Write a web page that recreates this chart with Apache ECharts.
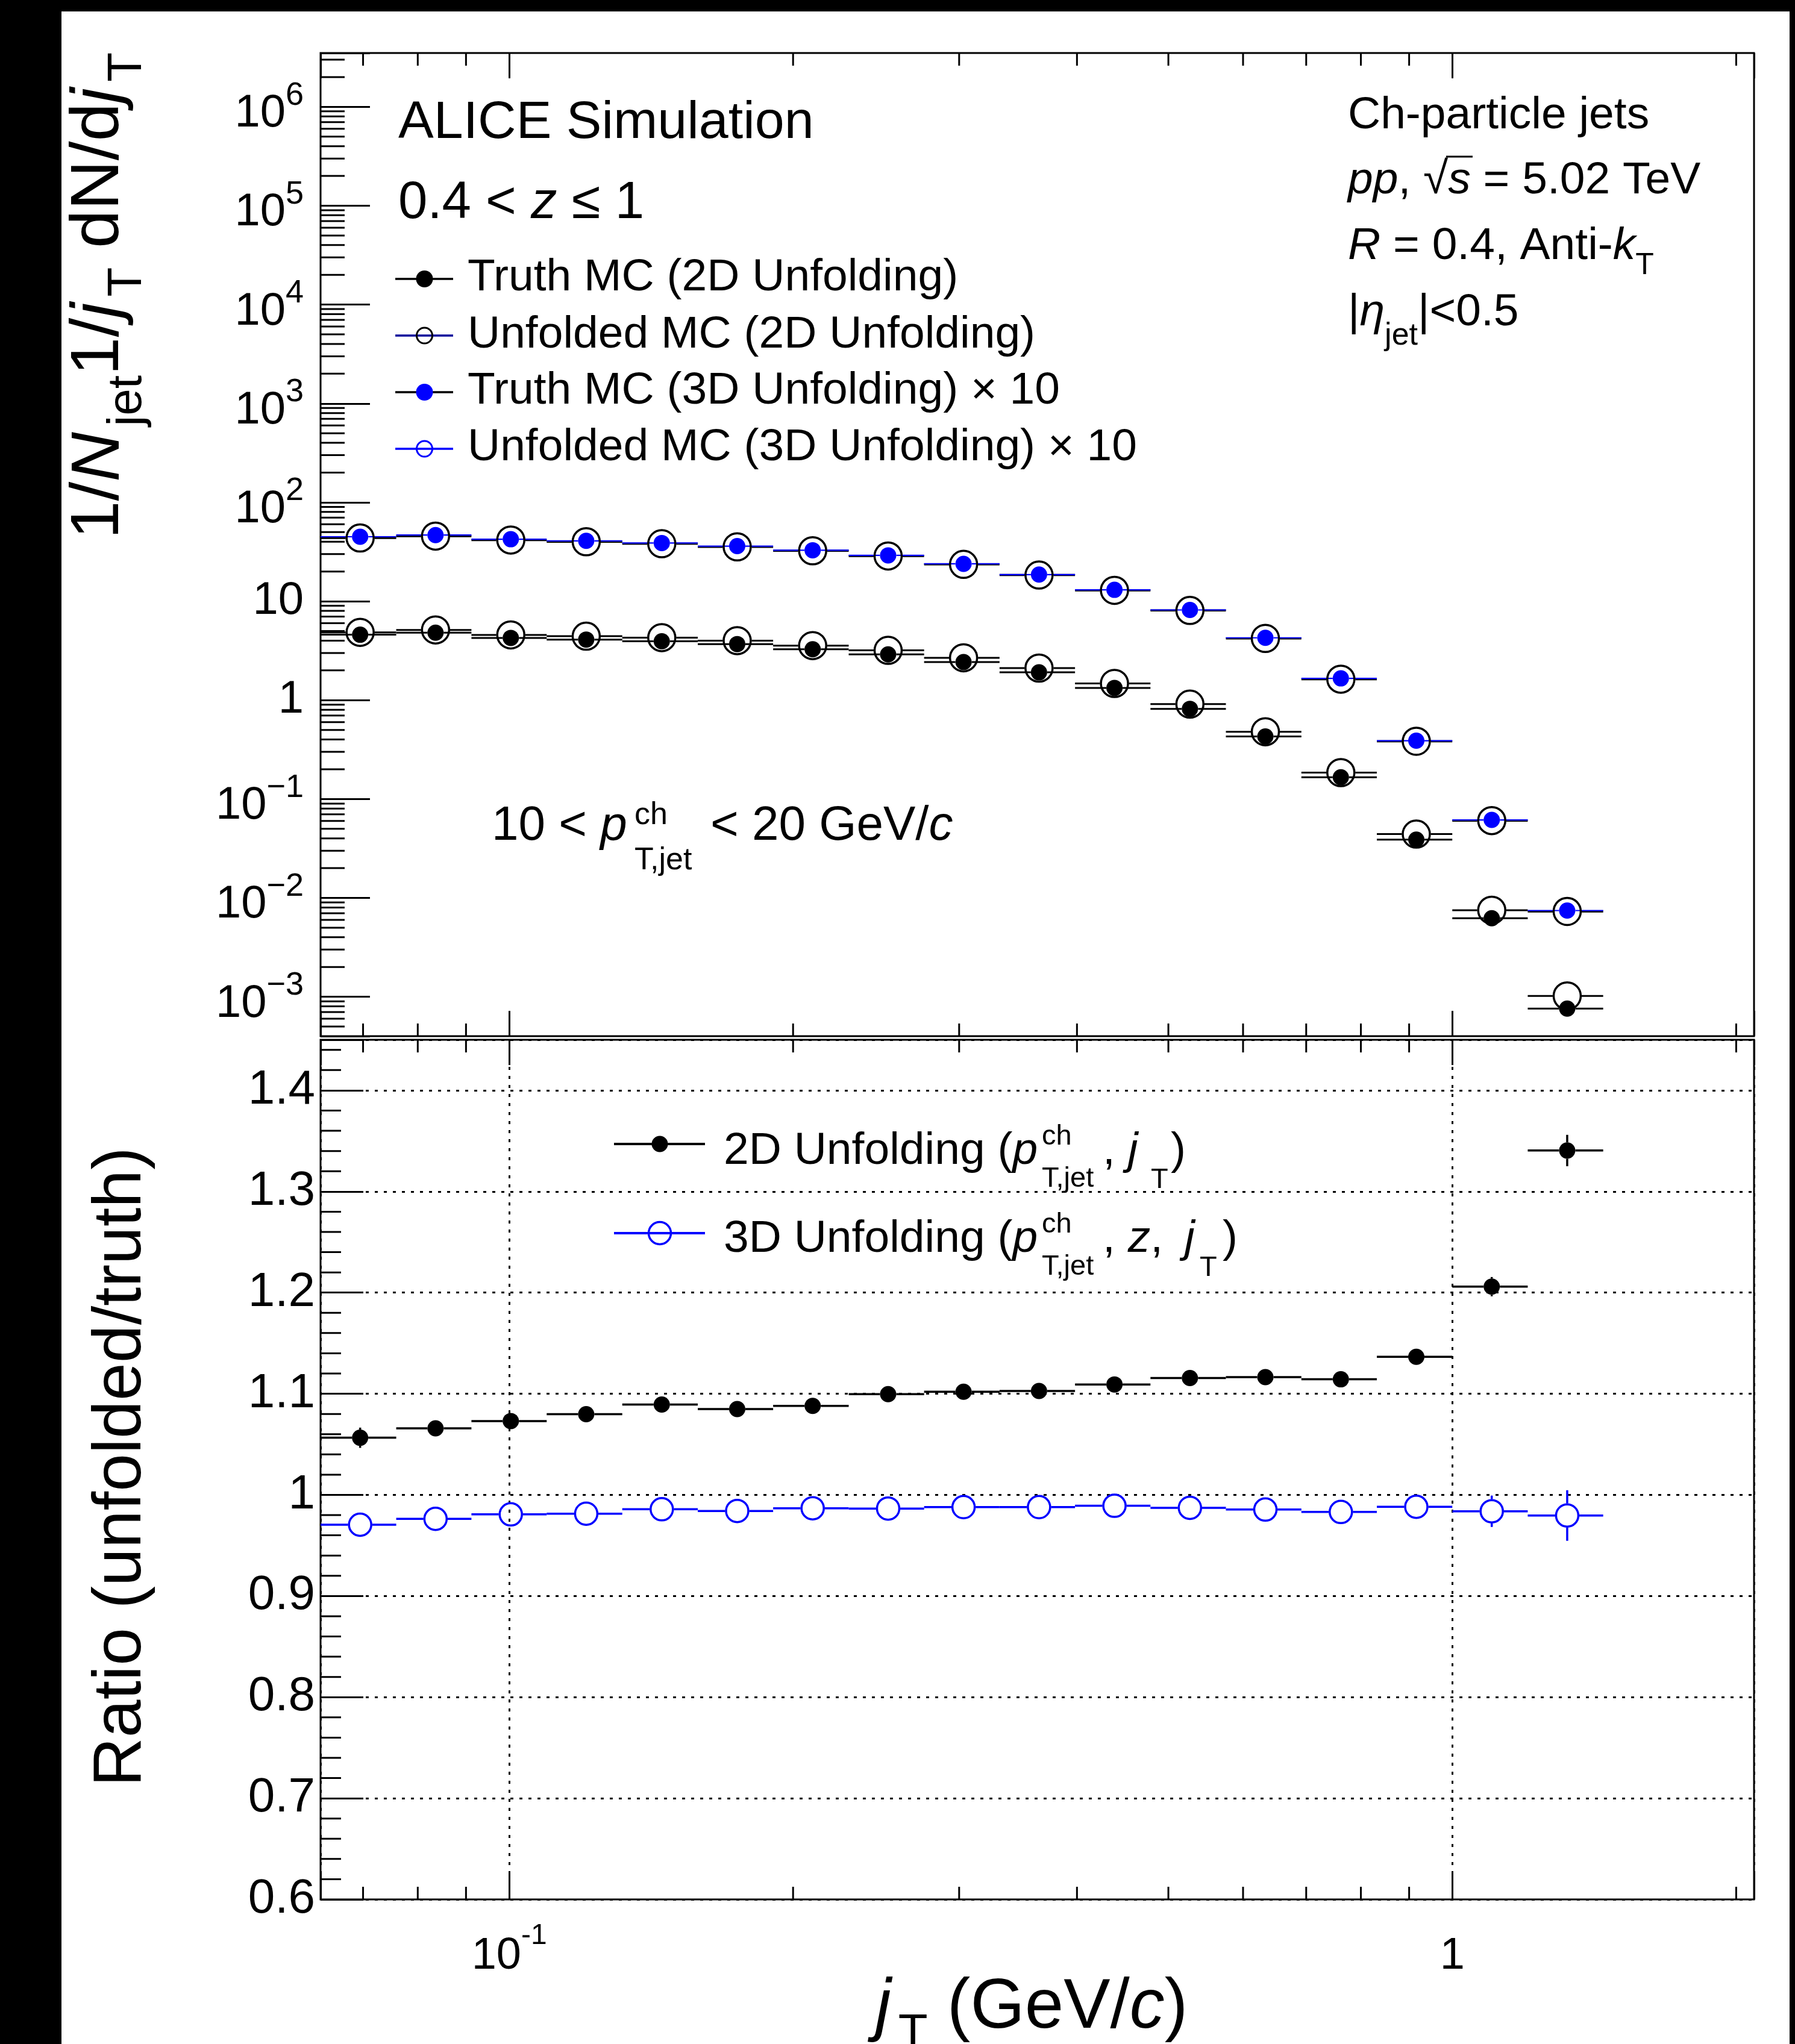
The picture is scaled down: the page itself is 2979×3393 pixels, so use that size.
<!DOCTYPE html>
<html>
<head>
<meta charset="utf-8">
<script src="https://cdn.jsdelivr.net/npm/echarts@6/dist/echarts.min.js"></script>
<style>
html,body{margin:0;padding:0;background:#000;width:2979px;height:3393px;overflow:hidden;}
#paper{position:absolute;left:102px;top:19px;width:2868px;height:3374px;background:#fff;}
#chart{position:absolute;left:0;top:0;width:2979px;height:3393px;}
</style>
</head>
<body>
<div id="paper"></div>
<div id="chart"></div>
<script>
// ---------------- DATA ----------------
const binEdges = [0.0631, 0.0759, 0.0912, 0.1096, 0.1318, 0.1585, 0.1905, 0.2291, 0.2754,
                  0.3311, 0.3981, 0.4786, 0.5754, 0.6918, 0.8318, 1.0, 1.2023, 1.4454];
const truth2D = [4.59, 4.81, 4.26, 4.10, 3.94, 3.69, 3.27, 2.90, 2.43, 1.91, 1.33, 0.817,
                 0.429, 0.166, 0.0389, 0.00623, 0.00076];
const unfolded2D = [4.85, 5.13, 4.57, 4.43, 4.29, 4.00, 3.56, 3.19, 2.68, 2.11, 1.475, 0.911,
                    0.479, 0.185, 0.0442, 0.00751, 0.00102];
const truth3Dx10 = [44.9, 46.7, 42.4, 40.8, 38.8, 36.1, 32.8, 29.1, 23.9, 18.6, 13.05, 8.17,
                    4.27, 1.66, 0.389, 0.0615, 0.00745];
const unfolded3Dx10 = [43.6, 45.6, 41.6, 40.0, 38.2, 35.5, 32.4, 28.7, 23.6, 18.4, 12.9, 8.07,
                       4.21, 1.63, 0.384, 0.0605, 0.0073];
const ratio2D = [1.0565, 1.0658, 1.073, 1.0798, 1.0893, 1.0849, 1.088, 1.0996, 1.102, 1.1027,
                 1.1092, 1.1155, 1.1164, 1.1143, 1.1365, 1.2059, 1.3405];
const ratio2DErr = [0.010, 0.005, 0.004, 0.004, 0.004, 0.004, 0.004, 0.004, 0.004, 0.004,
                    0.004, 0.004, 0.004, 0.005, 0.006, 0.0095, 0.0155];
const ratio3D = [0.9705, 0.9763, 0.9807, 0.9814, 0.9858, 0.9841, 0.9868, 0.9865, 0.9879, 0.9879,
                 0.9892, 0.9872, 0.9855, 0.9831, 0.9882, 0.9838, 0.9796];
const ratio3DErr = [0.008, 0.005, 0.004, 0.004, 0.004, 0.004, 0.004, 0.004, 0.004, 0.004,
                    0.004, 0.004, 0.005, 0.006, 0.008, 0.0155, 0.025];

// tick labels
const upperYTickValues = [1e-3, 1e-2, 1e-1, 1, 10, 100, 1e3, 1e4, 1e5, 1e6];
const upperYTickLabels = ['10^−3', '10^−2', '10^−1', '1', '10', '10^2', '10^3', '10^4', '10^5', '10^6'];
const xTickValues = [0.1, 1];
const xTickLabels = ['10^-1', '1'];
const ratioTickValues = [0.6, 0.7, 0.8, 0.9, 1.0, 1.1, 1.2, 1.3, 1.4];
const ratioTickLabels = ['0.6', '0.7', '0.8', '0.9', '1', '1.1', '1.2', '1.3', '1.4'];

// ---------------- LAYOUT ----------------
const FONT = '"Liberation Sans", Arial, Helvetica, sans-serif';
const MID = 0.28;
const X_MIN = 0.0631, X_MAX = 2.089;
const UY_MIN = 4e-4, UY_MAX = 3.5e6;
const LY_MIN = 0.6, LY_MAX = 1.45;
const PL = 532, PR = 2911, UT = 88, UB = 1720, LT = 1726, LB = 3153;

const centers = binEdges.slice(0, -1).map((lo, i) => (lo + binEdges[i + 1]) / 2);

function lbl(list, values, v, isLog) {
  for (let i = 0; i < values.length; i++) {
    const d = isLog ? Math.abs(Math.log10(v) - Math.log10(values[i])) : Math.abs(v - values[i]);
    if (d < 1e-6) return list[i];
  }
  return null;
}

// ---------------- SERIES HELPERS ----------------
function binSeries(name, xi, yi, vals, errs, color, width, gap, z) {
  return {
    type: 'custom', name, xAxisIndex: xi, yAxisIndex: yi, z, silent: true, animation: false, clip: false,
    data: vals.map((v, i) => [binEdges[i], binEdges[i + 1], v, errs ? errs[i] : 0]),
    renderItem(params, api) {
      const lo = api.value(0), hi = api.value(1), v = api.value(2), e = api.value(3);
      const c = (lo + hi) / 2;
      const pl = api.coord([lo, v]), ph = api.coord([hi, v]), pc = api.coord([c, v]);
      const st = () => ({ stroke: color, lineWidth: width, fill: null });
      const kids = [];
      if (pc[0] - gap > pl[0]) kids.push({ type: 'line', shape: { x1: pl[0], y1: pl[1], x2: pc[0] - gap, y2: pc[1] }, style: st() });
      if (ph[0] > pc[0] + gap) kids.push({ type: 'line', shape: { x1: pc[0] + gap, y1: pc[1], x2: ph[0], y2: ph[1] }, style: st() });
      if (e > 0) {
        const top = api.coord([c, v + e])[1], bot = api.coord([c, v - e])[1];
        if (pc[1] - top > gap) {
          kids.push({ type: 'line', shape: { x1: pc[0], y1: top, x2: pc[0], y2: pc[1] - gap }, style: st() });
          kids.push({ type: 'line', shape: { x1: pc[0], y1: pc[1] + gap, x2: pc[0], y2: bot }, style: st() });
        }
      }
      return { type: 'group', children: kids };
    }
  };
}
function markerSeries(name, xi, yi, vals, size, fill, stroke, bw, z) {
  return {
    type: 'scatter', name, xAxisIndex: xi, yAxisIndex: yi, z, silent: true, animation: false,
    symbol: 'circle', symbolSize: size,
    data: vals.map((v, i) => [centers[i], v]),
    itemStyle: { color: fill, borderColor: stroke, borderWidth: bw, opacity: 1 },
    emphasis: { disabled: true }
  };
}
// minor ticks (2..9 x 10^n on log axes, 0.02 steps on ratio axis)
const xMinorVals = [];
[-2, -1, 0].forEach(n => { for (let m = 2; m <= 9; m++) { const v = m * Math.pow(10, n); if (v > X_MIN && v < X_MAX) xMinorVals.push(v); } });
const uyMinorVals = [];
for (let n = -4; n <= 6; n++) for (let m = 2; m <= 9; m++) { const v = m * Math.pow(10, n); if (v > UY_MIN * 1.0001 && v < UY_MAX) uyMinorVals.push(v); }
const lyMinorVals = [];
for (let k = 31; k <= 72; k++) if (k % 5 !== 0) lyMinorVals.push(k / 50);

function xMinorSeries(xi, yi, yRef, len) {
  return {
    type: 'custom', xAxisIndex: xi, yAxisIndex: yi, silent: true, animation: false, clip: false, z: 5,
    data: xMinorVals.map(v => [v, yRef]),
    renderItem(params, api) {
      const cs = params.coordSys;
      const px = api.coord([api.value(0), yRef])[0];
      return { type: 'group', children: [
        { type: 'line', shape: { x1: px, y1: cs.y, x2: px, y2: cs.y + len }, style: { stroke: '#000', lineWidth: 3 } },
        { type: 'line', shape: { x1: px, y1: cs.y + cs.height, x2: px, y2: cs.y + cs.height - len }, style: { stroke: '#000', lineWidth: 3 } }
      ] };
    }
  };
}
function yMinorSeries(xi, yi, xRef, vals, len) {
  return {
    type: 'custom', xAxisIndex: xi, yAxisIndex: yi, silent: true, animation: false, clip: false, z: 5,
    data: vals.map(v => [xRef, v]),
    renderItem(params, api) {
      const cs = params.coordSys;
      const py = api.coord([xRef, api.value(1)])[1];
      return { type: 'line', shape: { x1: cs.x, y1: py, x2: cs.x + len, y2: py }, style: { stroke: '#000', lineWidth: 3 } };
    }
  };
}

// ---------------- AXES ----------------
const tickStyle = { color: '#000', width: 3 };
const dotted = { type: [5, 10], color: '#000', width: 3 };
function xAxisDef(grid, pos, extra) {
  return Object.assign({
    type: 'log', logBase: 10, gridIndex: grid, position: pos, min: X_MIN, max: X_MAX,
    axisLine: { show: false }, splitLine: { show: false }, axisLabel: { show: false },
    axisTick: { show: true, inside: true, length: 42, lineStyle: tickStyle }, axisPointer: { show: false }
  }, extra || {});
}
const xLabelRich = {
  sp: { fontSize: 1, lineHeight: 106, fontFamily: FONT },
  m: { fontSize: 74, height: 74, lineHeight: 74, verticalAlign: 'bottom', fontFamily: FONT, color: '#000' },
  p: { fontSize: 48, height: 70, lineHeight: 70, verticalAlign: 'top', fontFamily: FONT, color: '#000' }
};
const uyLabelRich = {
  sp: { fontSize: 1, lineHeight: 110, fontFamily: FONT },
  m: { fontSize: 76, height: 86, lineHeight: 86, verticalAlign: 'bottom', fontFamily: FONT, color: '#000' },
  p: { fontSize: 54, height: 73, lineHeight: 73, verticalAlign: 'top', fontFamily: FONT, color: '#000' },
  n: { fontSize: 76, lineHeight: 76, fontFamily: FONT, color: '#000' }
};

const option = {
  animation: false,
  backgroundColor: 'transparent',
  textStyle: { fontFamily: FONT },
  grid: [
    { left: PL, top: UT, width: PR - PL, height: UB - UT, show: true, borderColor: '#000', borderWidth: 3, backgroundColor: 'transparent', containLabel: false, outerBoundsMode: 'none' },
    { left: PL, top: LT, width: PR - PL, height: LB - LT, show: true, borderColor: '#000', borderWidth: 3, backgroundColor: 'transparent', containLabel: false, outerBoundsMode: 'none' }
  ],
  xAxis: [
    xAxisDef(0, 'bottom'),
    xAxisDef(0, 'top'),
    xAxisDef(1, 'bottom', {
      axisLabel: {
        show: true, margin: 26, rich: xLabelRich,
        formatter: v => {
          const s = lbl(xTickLabels, xTickValues, v, true);
          if (s === null) return '';
          const parts = s.split('^');
          return parts.length > 1 ? '{sp| }{m|' + parts[0] + '}{p|' + parts[1] + '}' : '{sp| }{m|' + s + '}';
        }
      },
      splitLine: { show: true, lineStyle: dotted }
    }),
    xAxisDef(1, 'top')
  ],
  yAxis: [
    {
      type: 'log', logBase: 10, gridIndex: 0, min: UY_MIN, max: UY_MAX, splitNumber: 10,
      axisLine: { show: false }, splitLine: { show: false }, axisPointer: { show: false },
      axisTick: { show: true, inside: true, length: 82, lineStyle: tickStyle },
      axisLabel: {
        show: true, margin: 28, rich: uyLabelRich,
        formatter: v => {
          const s = lbl(upperYTickLabels, upperYTickValues, v, true);
          if (s === null) return '';
          const parts = s.split('^');
          return parts.length > 1 ? '{sp| }{m|' + parts[0] + '}{p|' + parts[1] + '}' : '{n|' + s + '}';
        }
      }
    },
    {
      type: 'value', gridIndex: 1, min: LY_MIN, max: LY_MAX, interval: 0.1,
      axisLine: { show: false }, axisPointer: { show: false },
      splitLine: { show: true, lineStyle: dotted },
      axisTick: { show: true, inside: true, length: 71, lineStyle: tickStyle },
      axisLabel: {
        show: true, margin: 9, fontSize: 80, fontFamily: FONT, color: '#000',
        formatter: v => { const s = lbl(ratioTickLabels, ratioTickValues, v, false); return s === null ? '' : s; }
      }
    }
  ],
  series: [
    // upper panel
    binSeries('Truth MC (2D Unfolding)', 0, 0, truth2D, null, '#000', 3, 13.5, 3),
    binSeries('Unfolded MC (2D Unfolding)', 0, 0, unfolded2D, null, '#000', 3, 24, 3),
    binSeries('Unfolded MC (3D Unfolding) x 10', 0, 0, unfolded3Dx10, null, '#000', 3.5, 24, 3),
    binSeries('Truth MC (3D Unfolding) x 10', 0, 0, truth3Dx10, null, '#0000ff', 2.2, 13.5, 4),
    markerSeries('Unfolded MC (2D Unfolding)', 0, 0, unfolded2D, 45, 'rgba(0,0,0,0)', '#000', 3.5, 6),
    markerSeries('Unfolded MC (3D Unfolding) x 10', 0, 0, unfolded3Dx10, 45, 'rgba(0,0,0,0)', '#000', 3.5, 6),
    markerSeries('Truth MC (2D Unfolding)', 0, 0, truth2D, 27, '#000', '#000', 0, 7),
    markerSeries('Truth MC (3D Unfolding) x 10', 0, 0, truth3Dx10, 27, '#0000ff', '#0000ff', 0, 7),
    // lower panel
    binSeries('2D ratio', 2, 1, ratio2D, ratio2DErr, '#000', 3.5, 13.5, 3),
    binSeries('3D ratio', 2, 1, ratio3D, ratio3DErr, '#0000ff', 3.5, 20, 3),
    markerSeries('2D ratio', 2, 1, ratio2D, 27, '#000', '#000', 0, 7),
    markerSeries('3D ratio', 2, 1, ratio3D, 37, 'rgba(0,0,0,0)', '#0000ff', 3.5, 7),
    // minor ticks
    xMinorSeries(0, 0, 1, 21),
    xMinorSeries(2, 1, 1, 21),
    yMinorSeries(0, 0, 0.1, uyMinorVals, 40),
    yMinorSeries(2, 1, 0.1, lyMinorVals, 34)
  ],
  graphic: []
};

// ---------------- TEXT / LEGENDS ----------------
function richSet(fs, H, subFs, subLH, subPad) {
  return {
    m: { fontFamily: FONT, fontSize: fs, lineHeight: H, fill: '#000' },
    i: { fontFamily: FONT, fontSize: fs, lineHeight: H, fontStyle: 'italic', fill: '#000' },
    s: { fontFamily: FONT, fontSize: subFs || fs, height: subLH || H, lineHeight: subLH || H, verticalAlign: 'bottom', fill: '#000', padding: [0, 0, 0, subPad || 0] }
  };
}
function T(x, baseline, fs, text, extra) {
  const st = Object.assign({
    text, fontFamily: FONT, fontSize: fs, fill: '#000',
    align: 'left', verticalAlign: 'middle', textAlign: 'left', textVerticalAlign: 'middle'
  }, extra || {});
  return { type: 'text', x, y: baseline - MID * fs, z: 50, silent: true, style: st };
}
function gLine(x1, y1, x2, y2, color, w) {
  return { type: 'line', z: 50, silent: true, shape: { x1, y1, x2, y2 }, style: { stroke: color, lineWidth: w } };
}
function gCircle(cx, cy, r, fill, stroke, w) {
  return { type: 'circle', z: 51, silent: true, shape: { cx, cy, r }, style: { fill: fill, stroke: stroke, lineWidth: w } };
}
const G = option.graphic;

// axis titles
G.push({ type: 'text', x: 165, y: 87, rotation: Math.PI / 2, z: 50, silent: true,
  style: { text: '{m|1/}{i|N}{s|jet}{m|1/}{i|j}{s|T}{m| dN/d}{i|j}{s|T}', rich: richSet(114, 174, 80, 80, 10),
    align: 'right', verticalAlign: 'middle', textAlign: 'right', textVerticalAlign: 'middle', fontFamily: FONT, fontSize: 114 } });
G.push({ type: 'text', x: 202, y: 2435, rotation: Math.PI / 2, z: 50, silent: true,
  style: { text: 'Ratio (unfolded/truth)', fontFamily: FONT, fontSize: 113, fill: '#000',
    align: 'center', verticalAlign: 'middle', textAlign: 'center', textVerticalAlign: 'middle' } });
G.push(T(1453, 3366, 116, '{i|j}{s|T}{m| (GeV/}{i|c}{m|)}', { rich: richSet(116, 166, 80, 80, 12) }));

// top-left annotations
G.push(T(661, 229, 88, 'ALICE Simulation'));
G.push(T(661, 362, 87, '{m|0.4 < }{i|z}{m| ≤ 1}', { rich: richSet(87, 87) }));

// upper legend
const legY = [463, 557, 651, 745];
const legBase = [482, 577, 670, 764];
const legText = ['Truth MC (2D Unfolding)', 'Unfolded MC (2D Unfolding)', 'Truth MC (3D Unfolding) × 10', 'Unfolded MC (3D Unfolding) × 10'];
const legLine = ['#000', '#000099', '#000', '#0000ff'];
legY.forEach((y, k) => {
  G.push(gLine(656, y, 752, y, legLine[k], 3.5));
  if (k === 0) G.push(gCircle(704.5, y, 14, '#000', null, 0));
  if (k === 1) G.push(gCircle(704.5, y, 13, 'rgba(0,0,0,0)', '#000', 3));
  if (k === 2) G.push(gCircle(704.5, y, 14, '#0000ff', null, 0));
  if (k === 3) G.push(gCircle(704.5, y, 13, 'rgba(0,0,0,0)', '#0000ff', 3));
  G.push(T(776, legBase[k], 75, legText[k]));
});

// right block
G.push(T(2237, 213, 75, 'Ch-particle jets'));
G.push(T(2237, 321, 75, '{i|pp}{m|, }{m|√}{i|s}{m| = 5.02 TeV}', { rich: richSet(75, 75) }));
G.push(gLine(2400, 260, 2444, 260, '#000', 3));
G.push(T(2237, 430, 75, '{i|R}{m| = 0.4, Anti-}{i|k}{s|T}', { rich: richSet(75, 115, 50, 50) }));
G.push(T(2237, 540, 75, '{m||}{i|η}{s|jet}{m||<0.5}', { rich: richSet(75, 130, 52, 52) }));

// pT range annotation
G.push(T(816, 1394, 80, '{m|10 < }{i|p}', { rich: richSet(80, 80) }));
G.push(T(1053, 1368, 52, 'ch'));
G.push(T(1053, 1443, 52, 'T,jet'));
G.push(T(1179, 1394, 80, '{m|< 20 GeV/}{i|c}', { rich: richSet(80, 80) }));

// lower legend
G.push(gLine(1019, 1899, 1170, 1899, '#000', 4));
G.push(gCircle(1095, 1899, 13.5, '#000', null, 0));
G.push(T(1201, 1932, 75, '{m|2D Unfolding (}{i|p}', { rich: richSet(75, 75) }));
G.push(T(1729, 1900, 47, 'ch'));
G.push(T(1729, 1970, 47, 'T,jet'));
G.push(T(1830, 1932, 75, '{m|, }{i|j}', { rich: richSet(75, 75) }));
G.push(T(1910, 1972, 47, 'T'));
G.push(T(1943, 1932, 75, ')'));

G.push(gLine(1019, 2047, 1170, 2047, '#0000ff', 4));
G.push(gCircle(1095, 2047, 18.5, 'rgba(0,0,0,0)', '#0000ff', 3.5));
G.push(T(1201, 2078, 75, '{m|3D Unfolding (}{i|p}', { rich: richSet(75, 75) }));
G.push(T(1729, 2046, 47, 'ch'));
G.push(T(1729, 2116, 47, 'T,jet'));
G.push(T(1830, 2078, 75, '{m|, }{i|z}{m|,}', { rich: richSet(75, 75) }));
G.push(T(1966, 2078, 75, '{i|j}', { rich: richSet(75, 75) }));
G.push(T(1991, 2118, 47, 'T'));
G.push(T(2029, 2078, 75, ')'));

const chart = echarts.init(document.getElementById('chart'), null, { renderer: 'canvas', width: 2979, height: 3393 });
chart.setOption(option);
</script>
</body>
</html>
